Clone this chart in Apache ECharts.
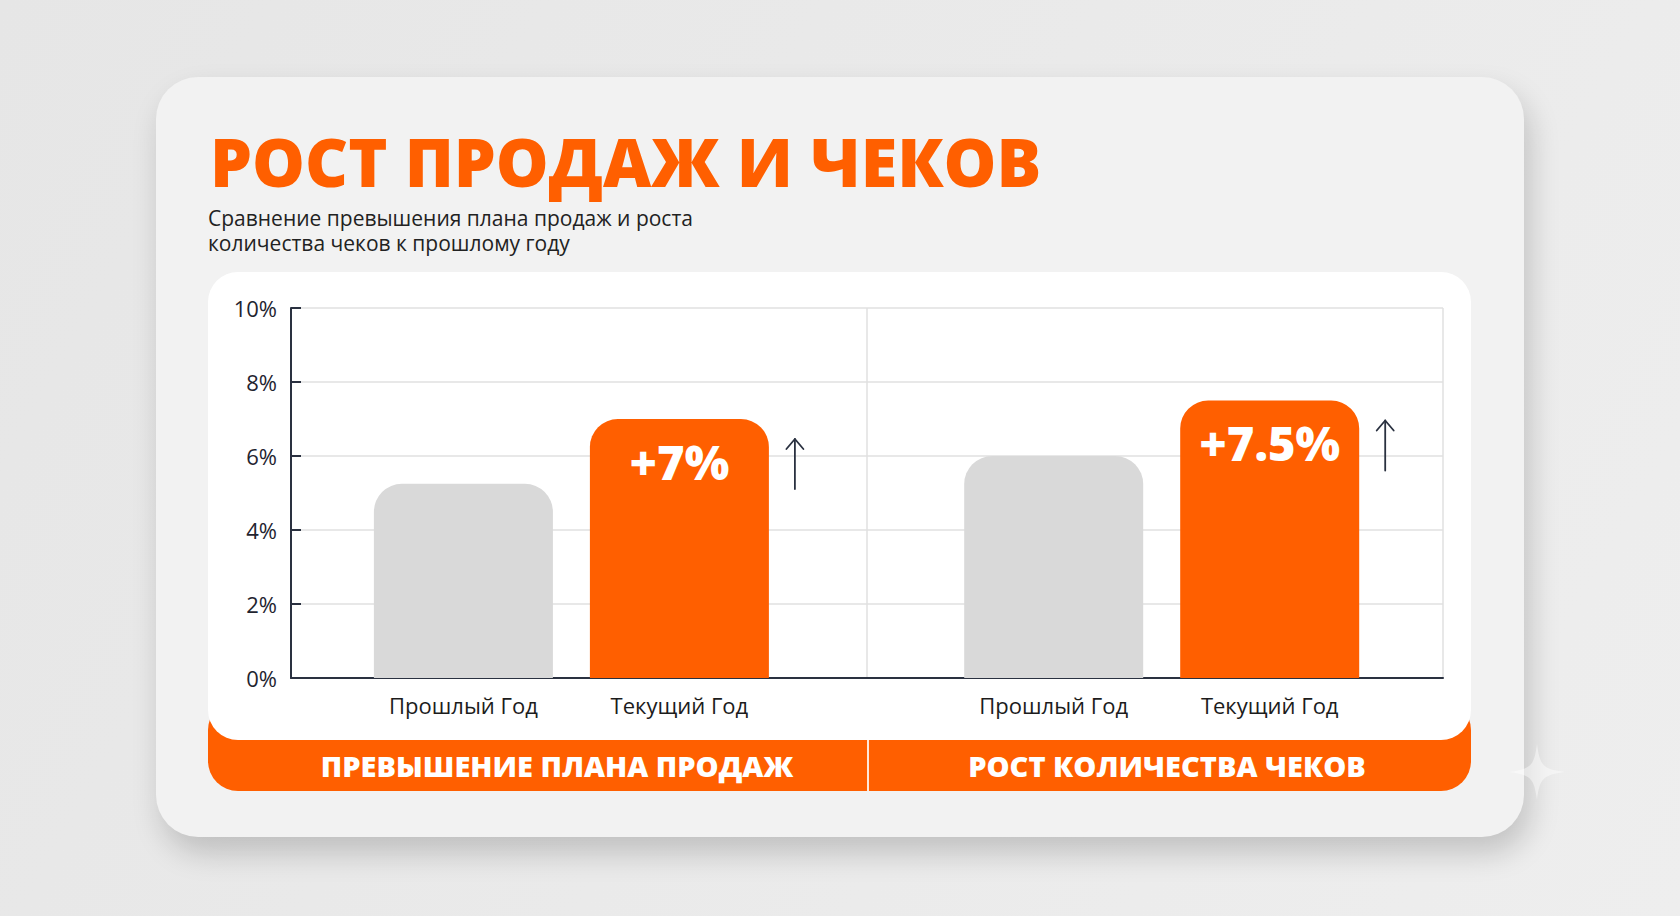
<!DOCTYPE html>
<html><head><meta charset="utf-8">
<script src="https://cdn.jsdelivr.net/npm/echarts@6/dist/echarts.min.js"></script>
<style>
html,body{margin:0;padding:0;width:1680px;height:916px;overflow:hidden;background:linear-gradient(120deg,#e6e6e6 0%,#eaeaea 50%,#eeeeee 100%);font-family:'Open Sans',sans-serif;}
.card{position:absolute;left:156px;top:77px;width:1368px;height:760px;border-radius:42px;background:#f2f2f2;box-shadow:6px 16px 30px rgba(0,0,0,0.18);}
.foot{position:absolute;left:208px;top:700px;width:1263px;height:91px;border-radius:30px;background:#ff5f00;}
.panel{position:absolute;left:208px;top:272px;width:1263px;height:468px;border-radius:30px;background:#ffffff;}
.sep{position:absolute;left:866.5px;top:740px;width:2px;height:51px;background:#ffffff;opacity:.85}
.spark{position:absolute;left:1507px;top:742px;}
#chart{position:absolute;left:0;top:0;width:1680px;height:916px;}
</style></head>
<body>
<div class="card"></div><div class="foot"></div><div class="panel"></div><div class="sep"></div>
<svg class="spark" width="60" height="60" viewBox="-30 -30 60 60"><path d="M0,-28 C3,-6 6,-3 28,0 C6,3 3,6 0,28 C-3,6 -6,3 -28,0 C-6,-3 -3,-6 0,-28Z" fill="#ffffff" fill-opacity="0.45"/></svg>
<div id="chart"></div>
<script>
// ---- data ----
const categories = ['Прошлый Год', 'Текущий Год'];
const groupNames = ['ПРЕВЫШЕНИЕ ПЛАНА ПРОДАЖ', 'РОСТ КОЛИЧЕСТВА ЧЕКОВ'];
const planExcess = [5.25, 7.0];     // % превышения плана продаж
const checksGrowth = [6.0, 7.5];    // % роста количества чеков
const yMin = 0, yMax = 10, yStep = 2;
const titleText = 'РОСТ ПРОДАЖ И ЧЕКОВ';
const subtitleLines = ['Сравнение превышения плана продаж и роста', 'количества чеков к прошлому году'];

// ---- style ----
const ORANGE = '#ff5f00', GRAY = '#d9d9d9', DARK = '#2a3140', GRID = '#e0e0e0';
const FONT = "'Open Sans', sans-serif";

const chart = echarts.init(document.getElementById('chart'), null, {renderer: 'svg'});

function barSeries(values, idx) {
  return {
    type: 'bar', xAxisIndex: idx, yAxisIndex: idx, barWidth: 179,
    data: values.map((v, i) => ({
      value: v,
      itemStyle: {color: i === 1 ? ORANGE : GRAY, borderRadius: [28, 28, 0, 0]},
      label: {show: i === 1}
    })),
    label: {
      position: 'insideTop', distance: 19, formatter: '+{c}%',
      color: '#ffffff', fontSize: 47, fontWeight: 800, fontFamily: FONT
    },
    emphasis: {disabled: true}
  };
}
// growth arrow next to the current-year bar, anchored at the bar's value
function arrowSeries(values, idx) {
  return {
    type: 'custom', xAxisIndex: idx, yAxisIndex: idx, silent: true,
    data: [[1, values[1]]],
    renderItem: function (params, api) {
      const p = api.coord([api.value(0), api.value(1)]);
      const x = p[0] + 115.5, y0 = p[1] + 20, y1 = p[1] + 70;
      const st = {stroke: DARK, lineWidth: 1.8, fill: null, lineCap: 'round', lineJoin: 'round'};
      return {type: 'group', children: [
        {type: 'line', shape: {x1: x, y1: y0, x2: x, y2: y1}, style: st},
        {type: 'polyline', shape: {points: [[x - 8.5, y0 + 10], [x, y0], [x + 8.5, y0 + 10]]}, style: st}
      ]};
    }
  };
}
const catAxis = (gi) => ({
  type: 'category', gridIndex: gi, data: categories,
  axisLine: {show: false}, axisTick: {show: false},
  axisLabel: {margin: 16, fontSize: 22, color: '#1c1c1c', fontFamily: FONT}
});
const hiddenY = (gi) => ({type: 'value', gridIndex: gi, min: yMin, max: yMax, interval: yStep, show: false, splitLine: {show: false}});

const option = {
  animation: false,
  grid: [
    {left: 291, top: 308, width: 1152, height: 370},
    {left: 355.4, top: 308, width: 432, height: 370},
    {left: 945.7, top: 308, width: 432, height: 370}
  ],
  xAxis: [
    {type: 'value', gridIndex: 0, min: 0, max: 2, interval: 1,
     axisLine: {show: true, lineStyle: {color: DARK, width: 2}}, axisTick: {show: false},
     axisLabel: {show: false}, splitLine: {show: true, lineStyle: {color: GRID, width: 1.5}}},
    catAxis(1), catAxis(2)
  ],
  yAxis: [
    {type: 'value', gridIndex: 0, min: yMin, max: yMax, interval: yStep,
     axisLine: {show: true, lineStyle: {color: DARK, width: 2}},
     axisTick: {show: true, inside: true, length: 10, lineStyle: {color: DARK, width: 2}},
     axisLabel: {formatter: '{value}%', margin: 14, fontSize: 22, color: '#1f2430', fontFamily: FONT},
     splitLine: {show: true, lineStyle: {color: GRID, width: 1.5}}},
    hiddenY(1), hiddenY(2)
  ],
  series: [
    barSeries(planExcess, 1), barSeries(checksGrowth, 2),
    arrowSeries(planExcess, 1), arrowSeries(checksGrowth, 2)
  ],
  graphic: [
    {type: 'text', x: 210, y: 161, style: {text: titleText, fill: '#ff5f00', fontSize: 66.5, fontWeight: 800, fontFamily: FONT, align: 'left', verticalAlign: 'middle'}},
    {type: 'text', x: 208, y: 218, style: {text: subtitleLines[0], fill: '#222222', fontSize: 21, fontFamily: FONT, align: 'left', verticalAlign: 'middle'}},
    {type: 'text', x: 208, y: 243, style: {text: subtitleLines[1], fill: '#222222', fontSize: 21, fontFamily: FONT, align: 'left', verticalAlign: 'middle'}},
    {type: 'text', x: 557, y: 765, style: {text: groupNames[0], fill: '#ffffff', fontSize: 29, fontWeight: 800, fontFamily: FONT, align: 'center', verticalAlign: 'middle'}},
    {type: 'text', x: 1167, y: 765, style: {text: groupNames[1], fill: '#ffffff', fontSize: 29, fontWeight: 800, fontFamily: FONT, align: 'center', verticalAlign: 'middle'}}
  ]
};
chart.setOption(option);
</script>
</body></html>
